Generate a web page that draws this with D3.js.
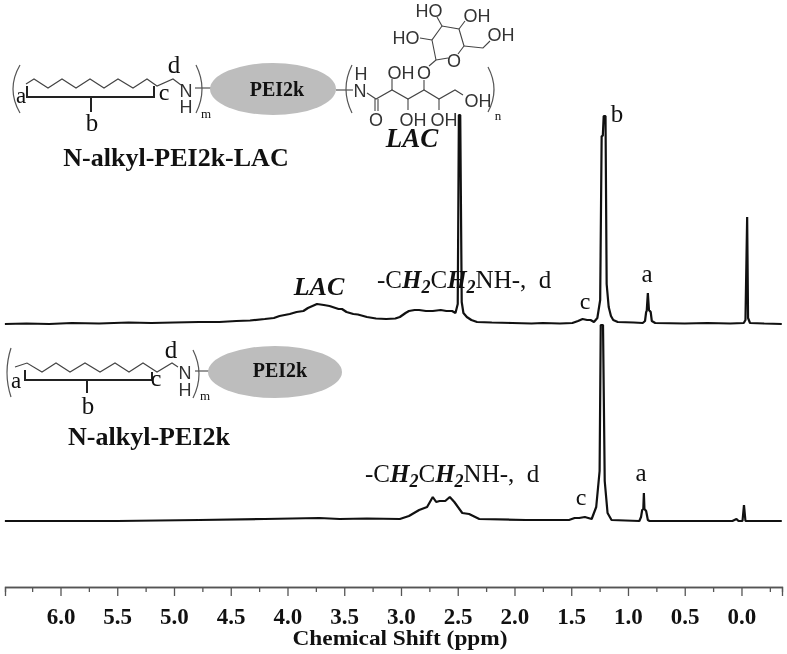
<!DOCTYPE html>
<html><head><meta charset="utf-8">
<script src="https://cdn.jsdelivr.net/npm/d3@7"></script>
<style>
html,body{margin:0;padding:0;background:#fff}
svg{display:block;filter:blur(0.45px)}
text{font-family:"Liberation Serif",serif;fill:#111}
.s{font-family:"Liberation Sans",sans-serif;fill:#333;font-size:18px}
</style></head><body><svg id="c" width="787" height="654"></svg>
<script>
const majorTicks=[6,5.5,5,4.5,4,3.5,3,2.5,2,1.5,1,0.5,0];
const minorTicks=[6.25,5.75,5.25,4.75,4.25,3.75,3.25,2.75,2.25,1.75,1.25,0.75,0.25,-0.25];
const axisTitle="Chemical Shift (ppm)";
const lacSpectrum=[[6.49,0],[6.3,0.5],[6.1,0],[5.9,1],[5.66,0.5],[5.4,1.5],[5.2,1],[5,1.5],[4.78,2],[4.6,2],[4.45,3],[4.33,3.5],[4.2,5],[4.12,6],[4.07,8],[3.98,10],[3.92,12],[3.86,13],[3.82,16],[3.74,20],[3.68,19],[3.63,18],[3.55,15],[3.52,15],[3.48,12],[3.42,10],[3.38,9.5],[3.3,7],[3.22,5.5],[3.13,5],[3.05,5.5],[3.01,7],[2.96,11],[2.93,13],[2.88,14],[2.84,14],[2.78,13],[2.72,13],[2.65,14],[2.6,13],[2.55,13],[2.52,11],[2.5,20],[2.49,209],[2.478,209],[2.465,22],[2.45,11],[2.42,7],[2.38,4],[2.33,2],[2.2,1.5],[2.02,1],[1.85,0.5],[1.75,1],[1.6,0.5],[1.49,1],[1.44,3],[1.4,5],[1.36,4],[1.33,4],[1.3,2],[1.27,6],[1.245,24],[1.232,188],[1.222,188],[1.214,208],[1.198,208],[1.188,40],[1.17,17],[1.15,8],[1.13,4],[1.09,2],[0.95,1.5],[0.87,1],[0.85,3],[0.84,12],[0.835,13],[0.825,31],[0.815,14],[0.80,12],[0.79,3],[0.76,1],[0.5,0.5],[0.3,1],[0.1,0.5],[-0.02,1],[-0.035,4],[-0.05,107],[-0.058,6],[-0.075,1],[-0.2,0.5],[-0.355,0]];
const alkylSpectrum=[[6.49,0],[5.5,0],[4.78,1],[4.2,2],[3.72,3],[3.54,2],[3.3,2.5],[3.01,2],[2.93,5],[2.84,11],[2.77,14],[2.72,24],[2.69,19],[2.66,20],[2.61,20],[2.57,24],[2.53,19],[2.46,8],[2.4,7],[2.31,2],[1.9,1],[1.52,1],[1.47,3],[1.43,3],[1.38,4],[1.32,2],[1.28,14],[1.25,50],[1.24,196],[1.22,196],[1.205,40],[1.18,8],[1.145,1],[0.9,0],[0.885,4],[0.875,11],[0.865,12],[0.86,28],[0.855,12],[0.84,10],[0.825,1],[0.81,0],[0.08,0],[0.044,2],[0.026,0],[-0.009,0],[-0.022,16],[-0.035,0],[-0.355,0]];

const svg=d3.select("#c");
const x=d3.scaleLinear().domain([6.489,-0.357]).range([5,782]);
const yTop=d3.scaleLinear().domain([0,209]).range([324,115]);
const yBot=d3.scaleLinear().domain([0,196]).range([521,325]);
const line=y=>d3.line().x(d=>x(d[0])).y(d=>y(d[1]));
[[lacSpectrum,yTop],[alkylSpectrum,yBot]].forEach(([d,y])=>{
  svg.append("path").datum(d).attr("d",line(y)).attr("fill","none").attr("stroke","#111").attr("stroke-width",2.2).attr("stroke-linejoin","bevel");
});
// axis
const major=d3.axisBottom(x).tickValues(majorTicks).tickSize(9).tickPadding(11.5).tickFormat(d3.format(".1f"));
const minor=d3.axisBottom(x).tickValues(minorTicks).tickSize(5).tickFormat("");
const ay=587;
svg.append("g").attr("transform",`translate(0,${ay})`).call(minor).call(g=>g.selectAll("path,line").attr("stroke","#555").attr("stroke-width",1.3));
const ga=svg.append("g").attr("transform",`translate(0,${ay})`).call(major);
ga.selectAll("path,line").attr("stroke","#555").attr("stroke-width",1.3);
ga.selectAll("text").attr("font-family","Liberation Serif").attr("font-weight","bold").attr("font-size",23).attr("fill","#111");
svg.append("text").attr("x",400).attr("y",645).attr("text-anchor","middle").attr("font-weight","bold").attr("font-size",21).attr("textLength",215).attr("lengthAdjust","spacingAndGlyphs").text(axisTitle);

function t(s,px,py,size,o={}){
  return svg.append("text").attr("x",px).attr("y",py).attr("font-size",size).attr("text-anchor",o.a||"middle")
   .attr("font-weight",o.w||"normal").attr("font-style",o.i||"normal").attr("class",o.c||null).text(s);
}
function p(pts,w=1.1,col="#444"){svg.append("path").attr("d",d3.line()(pts)).attr("fill","none").attr("stroke",col).attr("stroke-width",w);}
function paren(xa,xb,y0,y1){svg.append("path").attr("d",`M${xb},${y0}Q${xa},${(y0+y1)/2} ${xb},${y1}`).attr("fill","none").attr("stroke","#555").attr("stroke-width",1.2);}
function ell(cx,cy,rx,ry){svg.append("ellipse").attr("cx",cx).attr("cy",cy).attr("rx",rx).attr("ry",ry).attr("fill","#bdbdbd");}

// top molecule
paren(6,20,65,113);
p([[26,84],[34,79],[48,88],[62,79],[76,88],[90,79],[104,88],[118,79],[133,88],[147,79],[157,86],[173,79],[181,85]]);
p([[27,86],[27,97],[154,97],[154,86]],2,"#222");
p([[91,97],[91,112]],2,"#222");
t("a",21,103,23);t("c",164,100,24);t("d",174,73,25);t("b",92,131,25);
t("N",186,97,18,{c:"s"});t("H",186,113,18,{c:"s"});
p([[195,88],[211,88]]);
paren(208,196,65,113);
t("m",206,118,13);
ell(273,89,63,26);
t("PEI2k",277,96,20,{w:"bold"});
p([[336,90],[353,90]]);
paren(340,352,65,113);
t("H",361,80,18,{c:"s"});t("N",360,97,18,{c:"s"});
p([[367,93],[376,99],[392,90],[408,99],[424,90],[439,99],[455,90],[463,95]]);
p([[375,99],[375,111]]);p([[378,99],[378,111]]);
t("O",376,126,18,{c:"s"});
p([[392,90],[392,79]]);t("OH",401,79,18,{c:"s"});
p([[408,99],[408,110]]);t("OH",413,126,18,{c:"s"});
p([[424,90],[424,80]]);t("O",424,79,18,{c:"s"});
p([[439,99],[439,110]]);t("OH",444,126,18,{c:"s"});
t("OH",478,107,18,{c:"s"});
p([[429,66],[436,60]]);
p([[436,60],[432,40],[442,26],[459,29],[464,46],[458,54]]);p([[448,58],[436,60]]);
t("O",454,67,18,{c:"s"});
p([[432,40],[420,38]]);t("HO",406,44,18,{c:"s"});
p([[442,26],[437,17]]);t("HO",429,17,18,{c:"s"});
p([[459,29],[465,21]]);t("OH",477,22,18,{c:"s"});
p([[464,46],[483,48],[490,41]]);t("OH",501,41,18,{c:"s"});
paren(500,488,67,112);
t("n",498,120,13);
t("LAC",412,147,27,{w:"bold",i:"italic"});
t("N-alkyl-PEI2k-LAC",176,166,26,{w:"bold"});

// bottom molecule
paren(3,11,348,397);
p([[15,367],[27,363],[42,372],[56,363],[70,372],[85,363],[100,372],[115,363],[129,372],[143,363],[157,372],[172,363],[178,367]]);
p([[25,370],[25,380],[152,380],[152,372]],2,"#222");
p([[87,380],[87,393]],2,"#222");
t("a",16,388,23);t("c",156,386,24);t("d",171,358,25);t("b",88,414,25);
t("N",185,379,18,{c:"s"});t("H",185,396,18,{c:"s"});
p([[195,371],[210,371]]);
paren(205,193,350,398);
t("m",205,400,13);
ell(275,372,67,26);
t("PEI2k",280,377,20,{w:"bold"});
t("N-alkyl-PEI2k",149,445,26,{w:"bold"});

// annotations
t("LAC",319,295,26,{w:"bold",i:"italic"});
function cht(px,py,size){
  const e=svg.append("text").attr("x",px).attr("y",py).attr("font-size",size);
  e.append("tspan").text("-C");
  e.append("tspan").attr("font-weight","bold").attr("font-style","italic").text("H");
  e.append("tspan").attr("font-weight","bold").attr("font-style","italic").attr("dy",5).attr("font-size",size*.72).text("2");
  e.append("tspan").attr("dy",-5).text("C");
  e.append("tspan").attr("font-weight","bold").attr("font-style","italic").text("H");
  e.append("tspan").attr("font-weight","bold").attr("font-style","italic").attr("dy",5).attr("font-size",size*.72).text("2");
  e.append("tspan").attr("dy",-5).text("NH-,\u00a0\u00a0d");
}
cht(377,288,25);
cht(365,482,25);
t("c",585,309,24);t("a",647,282,25);t("b",617,122,25);
t("c",581,505,24);t("a",641,481,25);
</script></body></html>
